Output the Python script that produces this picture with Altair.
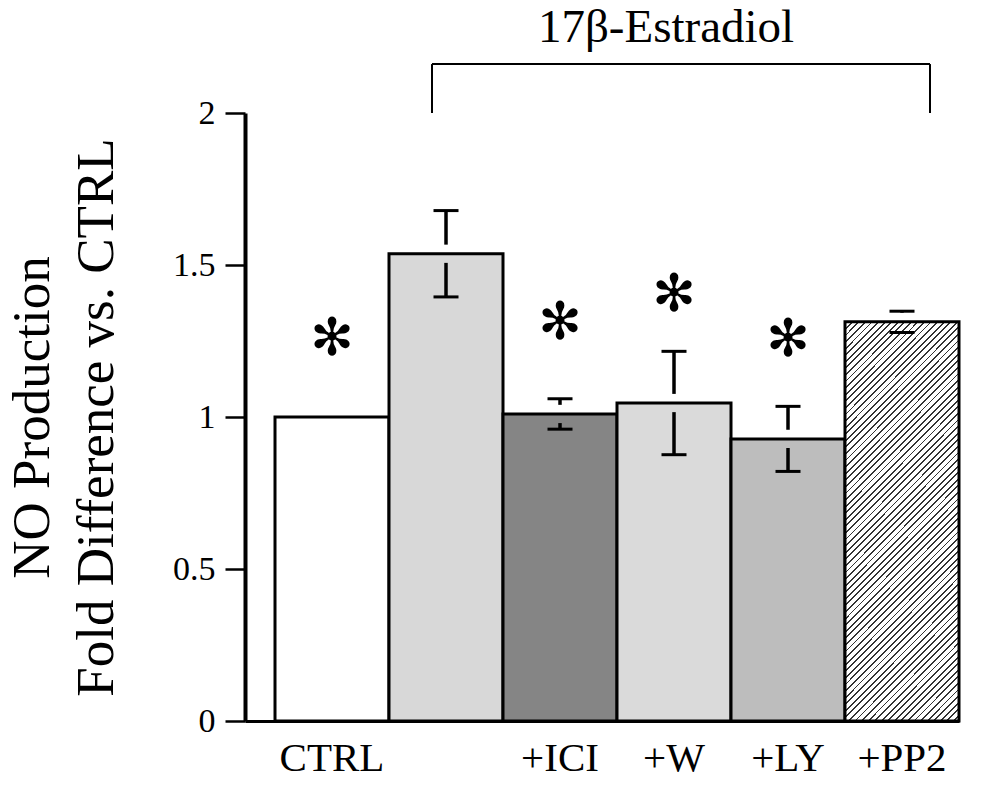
import altair as alt
import pandas as pd

# ---- data ----
categories = ["CTRL", "E2", "+ICI", "+W", "+LY", "+PP2"]
means = [1.0, 1.537, 1.01, 1.046, 0.928, 1.313]
sems = [0.0, 0.142, 0.05, 0.17, 0.107, 0.035]

star_cats = ["CTRL", "+ICI", "+W", "+LY"]
star_y = [1.255, 1.308, 1.40, 1.252]

y_ticks = [0, 0.5, 1, 1.5, 2]
y_title = ["NO Production", "Fold Difference vs. CTRL"]
group_label = "17\u03b2-Estradiol"
bracket_from, bracket_to = "E2", "+PP2"
bracket_top = 2.161

# ---- styling ----
FONT = "Liberation Serif"
fill_domain = ["CTRL", "E2", "+ICI", "+W", "+LY"]
fill_range = ["#ffffff", "#d8d8d8", "#858585", "#dadada", "#bdbdbd"]
GAP = 0.03

df = pd.DataFrame({"cat": categories, "mean": means, "sem": sems})
df["hi"] = df["mean"] + df["sem"]
df["lo"] = df["mean"] - df["sem"]
df_err = df[df["sem"] > 0].copy()
df_err["up_end"] = [min(h, m + GAP) for h, m in zip(df_err["hi"], df_err["mean"])]
df_err["lo_end"] = [max(l, m - GAP) for l, m in zip(df_err["lo"], df_err["mean"])]

stars = pd.DataFrame({"cat": star_cats, "y": star_y})

xscale = alt.Scale(domain=categories, paddingInner=0, paddingOuter=0.1316, align=1)
yscale = alt.Scale(domain=[0, 2], nice=False, zero=True)

x_enc = alt.X(
    "cat:N",
    scale=xscale,
    sort=categories,
    axis=alt.Axis(
        title=None,
        ticks=False,
        labelAngle=0,
        labelFont=FONT,
        labelFontSize=41,
        labelColor="black",
        labelPadding=17,
        labelExpr="datum.value == 'E2' ? '' : datum.value",
        domainColor="black",
        domainWidth=3,
    ),
)
y_axis = alt.Axis(
    values=y_ticks,
    format="~g",
    grid=False,
    tickSize=20,
    tickWidth=2.5,
    tickColor="black",
    domainColor="black",
    domainWidth=4,
    labelFont=FONT,
    labelFontSize=34,
    labelColor="black",
    labelPadding=10,
    title=y_title,
    titleFont=FONT,
    titleFontSize=53,
    titleFontWeight="normal",
    titleColor="black",
    titleLineHeight=64,
    titleAngle=270,
    titleAlign="center",
    titleBaseline="alphabetic",
    titleX=-197,
    titleY=304,
)

bars = (
    alt.Chart(df[df["cat"] != "+PP2"])
    .mark_bar(stroke="black", strokeWidth=3)
    .encode(
        x=x_enc,
        y=alt.Y("mean:Q", scale=yscale, axis=y_axis),
        fill=alt.Fill("cat:N", scale=alt.Scale(domain=fill_domain, range=fill_range), legend=None),
    )
)

# diagonal hatch for the last bar (gradient stripes)
N = 78
stops = []
for k in range(N):
    a = k / N
    b = (k + 0.28) / N
    c = (k + 1) / N
    stops += [
        alt.GradientStop(color="#333333", offset=a),
        alt.GradientStop(color="#333333", offset=b),
        alt.GradientStop(color="#ffffff", offset=b),
        alt.GradientStop(color="#ffffff", offset=c),
    ]
hatch = alt.LinearGradient(gradient="linear", stops=stops, x1=0, y1=0, x2=0.341, y2=1.189)

bars_hatch = (
    alt.Chart(df[df["cat"] == "+PP2"])
    .mark_bar(stroke="black", strokeWidth=3, fill=hatch)
    .encode(x=alt.X("cat:N", scale=xscale, sort=categories), y=alt.Y("mean:Q", scale=yscale))
)

stem_up = (
    alt.Chart(df_err)
    .mark_rule(color="black", strokeWidth=3.5)
    .encode(x=alt.X("cat:N", scale=xscale, sort=categories), y=alt.Y("hi:Q", scale=yscale), y2="up_end:Q")
)
stem_lo = (
    alt.Chart(df_err)
    .mark_rule(color="black", strokeWidth=3.5)
    .encode(x=alt.X("cat:N", scale=xscale, sort=categories), y=alt.Y("lo:Q", scale=yscale), y2="lo_end:Q")
)
cap_up = (
    alt.Chart(df_err)
    .mark_tick(color="black", size=25, thickness=3, opacity=1)
    .encode(x=alt.X("cat:N", scale=xscale, sort=categories), y=alt.Y("hi:Q", scale=yscale))
)
cap_lo = (
    alt.Chart(df_err)
    .mark_tick(color="black", size=25, thickness=3, opacity=1)
    .encode(x=alt.X("cat:N", scale=xscale, sort=categories), y=alt.Y("lo:Q", scale=yscale))
)

star_marks = (
    alt.Chart(stars)
    .mark_text(text="\u273b", font="DejaVu Sans", fontSize=52, baseline="middle", align="center", color="black")
    .encode(x=alt.X("cat:N", scale=xscale, sort=categories), y=alt.Y("y:Q", scale=yscale))
)

bracket_h = (
    alt.Chart(pd.DataFrame({"a": [0]}))
    .mark_rule(color="black", strokeWidth=2, xOffset=-14, x2Offset=28)
    .encode(
        x=alt.X(datum=bracket_from, type="nominal", scale=xscale),
        x2=alt.X2(datum=bracket_to),
        y=alt.Y(datum=bracket_top, type="quantitative", scale=yscale),
    )
)
bracket_l = (
    alt.Chart(pd.DataFrame({"a": [0]}))
    .mark_rule(color="black", strokeWidth=2, xOffset=-14)
    .encode(
        x=alt.X(datum=bracket_from, type="nominal", scale=xscale),
        y=alt.Y(datum=2, type="quantitative", scale=yscale),
        y2=alt.Y2(datum=bracket_top),
    )
)
bracket_r = (
    alt.Chart(pd.DataFrame({"a": [0]}))
    .mark_rule(color="black", strokeWidth=2, xOffset=28)
    .encode(
        x=alt.X(datum=bracket_to, type="nominal", scale=xscale),
        y=alt.Y(datum=2, type="quantitative", scale=yscale),
        y2=alt.Y2(datum=bracket_top),
    )
)
group_text = (
    alt.Chart(pd.DataFrame({"a": [0]}))
    .mark_text(font=FONT, fontSize=47, baseline="alphabetic", align="center", dx=-8, dy=-71, color="black")
    .encode(
        x=alt.X(datum="+W", type="nominal", scale=xscale),
        y=alt.Y(datum=2, type="quantitative", scale=yscale),
        text=alt.value(group_label),
    )
)

chart = (
    alt.layer(bars, bars_hatch, stem_up, stem_lo, cap_up, cap_lo, star_marks,
              bracket_h, bracket_l, bracket_r, group_text)
    .properties(
        width=714,
        height=608,
        autosize=alt.AutoSizeParams(type="none"),
        padding={"left": 245, "top": 113, "right": 27, "bottom": 70},
        background="white",
    )
    .configure_view(stroke=None)
)

chart.save("out.html", embed_options={"renderer": "svg", "actions": False})
